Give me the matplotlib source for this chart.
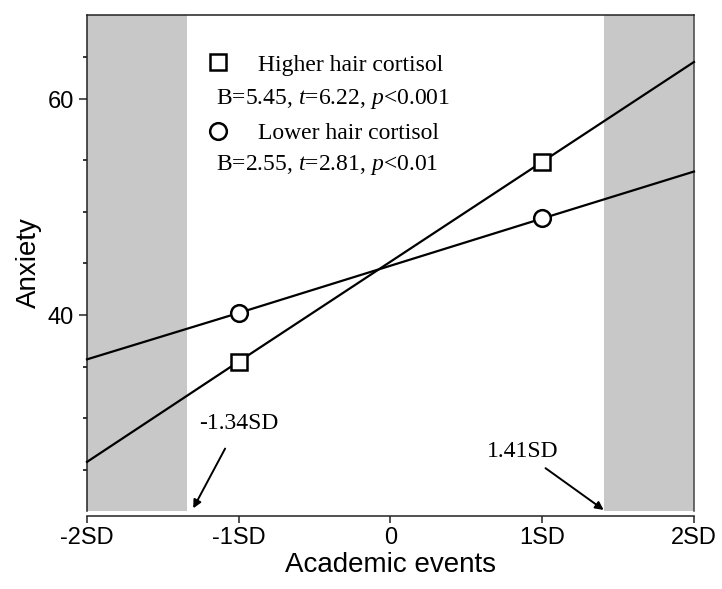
import matplotlib
matplotlib.use("Agg")
import matplotlib.pyplot as plt
from matplotlib.lines import Line2D

plt.rcParams["font.family"] = ["Liberation Sans", "DejaVu Sans"]
plt.rcParams["mathtext.fontset"] = "custom"
plt.rcParams["mathtext.rm"] = "Liberation Serif"
plt.rcParams["mathtext.it"] = "Liberation Serif:italic"

# data (x in SD units of academic events)
x_vals = [-2, -1, 1, 2]
higher_cortisol = [26.4, 35.7, 54.2, 63.45]
lower_cortisol = [35.9, 40.2, 48.95, 53.3]

# regions of significance (Johnson-Neyman)
jn_low = -1.34
jn_high = 1.41

x_ticks = [-2, -1, 0, 1, 2]
x_tick_labels = ["-2SD", "-1SD", "0", "1SD", "2SD"]
y_major = [40, 60]
y_minor = [25.65, 30.45, 35.2, 44.8, 49.55, 54.35, 63.9]

serif = ["Liberation Serif", "DejaVu Serif"]

fig = plt.figure(figsize=(7.22, 5.89), dpi=100)
ax = fig.add_axes([0.1205, 0.1324, 0.8407, 0.8421])

ax.axvspan(-2, jn_low, color="#c8c8c8", lw=0, zorder=0)
ax.axvspan(jn_high, 2, color="#c8c8c8", lw=0, zorder=0)

ax.plot(x_vals, higher_cortisol, color="black", lw=1.6, marker="s",
        markevery=[1, 2], ms=11, mfc="white", mec="black", mew=1.8,
        clip_on=False, zorder=3)
ax.plot(x_vals, lower_cortisol, color="black", lw=1.6, marker="o",
        markevery=[1, 2], ms=12, mfc="white", mec="black", mew=1.8,
        clip_on=False, zorder=3)

ax.set_xlim(-2, 2)
ax.set_ylim(21.85, 67.8)
ax.set_xticks(x_ticks)
ax.set_xticklabels(x_tick_labels)
ax.set_yticks(y_major)
ax.set_yticks(y_minor, minor=True)

ax.tick_params(axis="both", labelsize=17, width=1.1, color="#222222")
ax.tick_params(axis="x", which="major", length=5, pad=3)
ax.tick_params(axis="y", which="major", length=6)
ax.tick_params(axis="y", which="minor", length=3, width=1.1)

for side in ["left", "right", "top", "bottom"]:
    ax.spines[side].set_linewidth(1.1)
    ax.spines[side].set_color("#222222")
ax.spines["right"].set_color("#444444")
ax.spines["bottom"].set_position(("outward", 3.5))

ax.set_xlabel("Academic events", fontsize=20, labelpad=2)
ax.set_ylabel("Anxiety", fontsize=20, labelpad=4)

# legend
handles = [
    Line2D([], [], ls="none", marker="s", ms=11, mfc="white", mec="black", mew=1.8),
    Line2D([], [], ls="none", marker="o", ms=12, mfc="white", mec="black", mew=1.8),
]
leg = ax.legend(handles, ["Higher hair cortisol", "Lower hair cortisol"],
                loc="upper left", bbox_to_anchor=(0.1766, 0.945),
                frameon=False, handlelength=1.0, handletextpad=1.2,
                labelspacing=2.0, borderpad=0,
                prop={"family": serif, "size": 17})

ax.text(-1.15, 60.0, "B=5.45, $\\it{t}$=6.22, $\\it{p}$<0.001",
        family=serif, fontsize=17, va="center", ha="left")
ax.text(-1.15, 53.9, "B=2.55, $\\it{t}$=2.81, $\\it{p}$<0.01",
        family=serif, fontsize=17, va="center", ha="left")

arrow = dict(arrowstyle="-|>", color="black", lw=1.4, mutation_scale=12)
ax.annotate("-1.34SD", xy=(-1.30, 22.1), xytext=(-1.0, 30.0),
            family=serif, fontsize=17, ha="center", va="center",
            arrowprops=dict(arrow, shrinkA=10, shrinkB=0))
ax.annotate("1.41SD", xy=(1.405, 21.95), xytext=(0.87, 27.35),
            family=serif, fontsize=17, ha="center", va="center",
            arrowprops=dict(arrow, shrinkA=4, shrinkB=0))

fig.savefig("out.png", dpi=100)
